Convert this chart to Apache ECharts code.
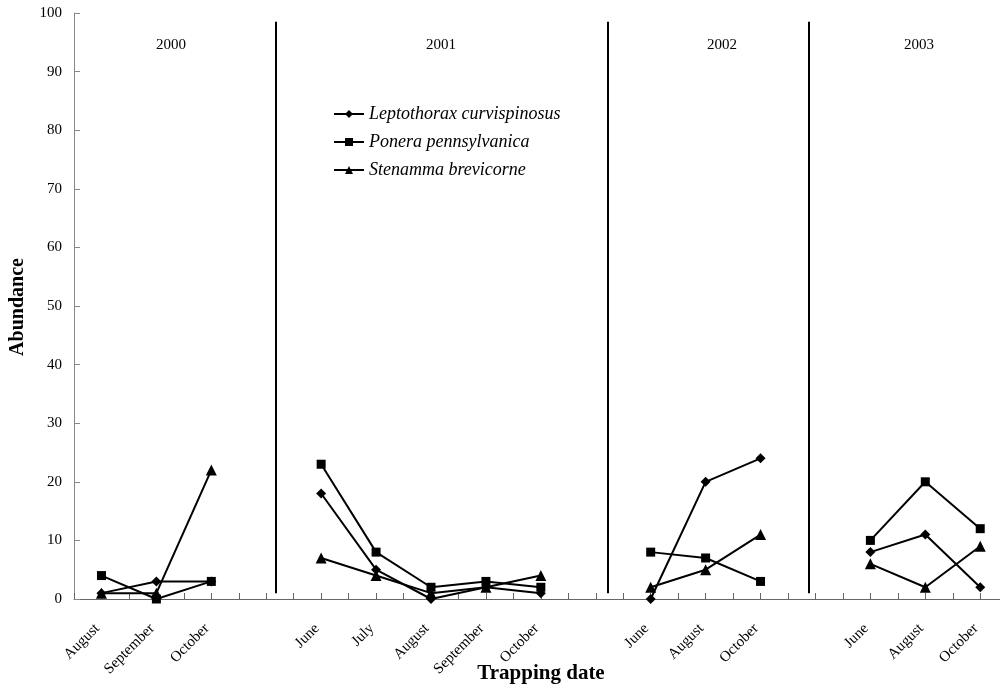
<!DOCTYPE html>
<html>
<head>
<meta charset="utf-8">
<script src="https://cdn.jsdelivr.net/npm/echarts@6/dist/echarts.min.js"></script>
<style>
html,body{margin:0;padding:0;background:#fff;}
#main{width:1000px;height:693px;}
</style>
</head>
<body>
<div id="main"></div>
<script>
// ---- data ----
var years = ['2000', '2001', '2002', '2003'];
var months2000 = ['August', 'September', 'October'];
var months2001 = ['June', 'July', 'August', 'September', 'October'];
var months2002 = ['June', 'August', 'October'];
var months2003 = ['June', 'August', 'October'];
var yTicks = [0, 10, 20, 30, 40, 50, 60, 70, 80, 90, 100];

var leptothorax2000 = [1, 3, 3];
var leptothorax2001 = [18, 5, 0, 2, 1];
var leptothorax2002 = [0, 20, 24];
var leptothorax2003 = [8, 11, 2];

var ponera2000 = [4, 0, 3];
var ponera2001 = [23, 8, 2, 3, 2];
var ponera2002 = [8, 7, 3];
var ponera2003 = [10, 20, 12];

var stenamma2000 = [1, 1, 22];
var stenamma2001 = [7, 4, 1, 2, 4];
var stenamma2002 = [2, 5, 11];
var stenamma2003 = [6, 2, 9];

var seriesNames = ['Leptothorax curvispinosus', 'Ponera pennsylvanica', 'Stenamma brevicorne'];
// separator lines between years (in x-axis units)
var separators = [7.34, 19.42, 26.74];

// ---- build slots: each category takes 2 units, a blank slot between years ----
var monthGroups = [months2000, months2001, months2002, months2003];
var labelMap = {};
var slotX = [];
var slot = 0;
monthGroups.forEach(function (g) {
  var xs = [];
  g.forEach(function (m) {
    var x = 2 * slot + 1;
    labelMap[x] = m;
    xs.push(x);
    slot++;
  });
  slotX.push(xs);
  slot++; // blank slot between years
});

function buildData(groups) {
  var out = [];
  groups.forEach(function (vals, gi) {
    vals.forEach(function (v, i) { out.push([slotX[gi][i], v]); });
    if (gi < groups.length - 1) out.push([slotX[gi][vals.length - 1] + 2, '-']);
  });
  return out;
}

var serif = 'Liberation Serif, Times New Roman, serif';
var chart = echarts.init(document.getElementById('main'), null, {renderer: 'canvas'});

function mkSeries(name, symbol, size, groups, extra) {
  var s = {
    name: name,
    type: 'line',
    data: buildData(groups),
    symbol: symbol,
    symbolSize: size,
    showAllSymbol: true,
    connectNulls: false,
    lineStyle: {color: '#000', width: 2},
    itemStyle: {color: '#000', borderColor: '#000', borderWidth: 0},
    emphasis: {disabled: true},
    animation: false,
    z: 3
  };
  if (extra) Object.assign(s, extra);
  return s;
}

var option = {
  backgroundColor: '#fff',
  animation: false,
  grid: {left: 74, right: 0, top: 13, bottom: 94, containLabel: false, outerBoundsMode: 'none'},
  legend: {
    orient: 'vertical',
    left: 333,
    top: 105,
    padding: 0,
    itemWidth: 30,
    itemHeight: 10,
    itemGap: 10,
    data: seriesNames,
    textStyle: {fontFamily: serif, fontStyle: 'italic', fontSize: 18, color: '#000'},
    selectedMode: false
  },
  xAxis: {
    type: 'value',
    min: 0,
    max: 33.72,
    interval: 1,
    splitLine: {show: false},
    axisLine: {show: true, onZero: false, lineStyle: {color: '#666', width: 1}},
    axisTick: {show: true, inside: true, length: 6, lineStyle: {color: '#666'}},
    axisLabel: {
      rotate: 45,
      margin: 23,
      padding: [0, 6, 0, 0],
      fontFamily: serif,
      fontSize: 15,
      color: '#000',
      showMinLabel: true,
      showMaxLabel: true,
      formatter: function (v) { var r = Math.round(v); return (labelMap[r] && Math.abs(v - r) < 1e-6) ? labelMap[r] : ''; }
    }
  },
  yAxis: {
    type: 'value',
    min: yTicks[0],
    max: yTicks[yTicks.length - 1],
    interval: yTicks[1] - yTicks[0],
    splitLine: {show: false},
    axisLine: {show: true, lineStyle: {color: '#888', width: 1}},
    axisTick: {show: true, inside: true, length: 6, lineStyle: {color: '#888'}},
    axisLabel: {margin: 12, fontFamily: serif, fontSize: 15, color: '#000'}
  },
  graphic: [
    {type: 'text', left: 156, top: 38, style: {text: years[0], font: '15px ' + serif, fill: '#000'}},
    {type: 'text', left: 426, top: 38, style: {text: years[1], font: '15px ' + serif, fill: '#000'}},
    {type: 'text', left: 707, top: 38, style: {text: years[2], font: '15px ' + serif, fill: '#000'}},
    {type: 'text', left: 904, top: 38, style: {text: years[3], font: '15px ' + serif, fill: '#000'}},
    {type: 'text', x: 18, y: 307, rotation: Math.PI / 2,
      style: {text: 'Abundance', font: 'bold 20px ' + serif, fill: '#000', align: 'center', verticalAlign: 'middle'}},
    {type: 'text', x: 541, y: 674,
      style: {text: 'Trapping date', font: 'bold 21px ' + serif, fill: '#000', align: 'center', verticalAlign: 'middle'}}
  ],
  series: [
    mkSeries(seriesNames[0], 'diamond', 10, [leptothorax2000, leptothorax2001, leptothorax2002, leptothorax2003], {
      markLine: {
        silent: true,
        symbol: 'none',
        animation: false,
        label: {show: false},
        lineStyle: {color: '#000', width: 2, type: 'solid'},
        data: separators.map(function (x) { return [{coord: [x, 1]}, {coord: [x, 98.5]}]; })
      }
    }),
    mkSeries(seriesNames[1], 'rect', 9, [ponera2000, ponera2001, ponera2002, ponera2003]),
    mkSeries(seriesNames[2], 'triangle', 11, [stenamma2000, stenamma2001, stenamma2002, stenamma2003])
  ]
};
chart.setOption(option);
</script>
</body>
</html>
